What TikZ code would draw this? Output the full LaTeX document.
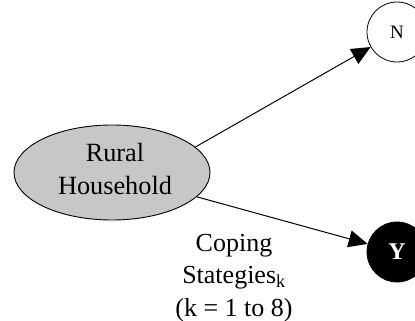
\documentclass[tikz,border=0pt]{standalone}
\usepackage{fontspec}
\setmainfont{Liberation Serif}
\usetikzlibrary{arrows.meta,shapes.geometric}
\begin{document}
\begin{tikzpicture}[x=1pt,y=-1pt,
  hhnode/.style={ellipse, draw, line width=0.9pt, fill=black!22, minimum width=196pt, minimum height=95pt, inner sep=0pt},
  hhtext/.style={align=center, inner sep=0pt, font=\fontsize{26.3}{33}\selectfont},
  varnode/.style={circle, draw, line width=0.8pt, minimum size=60pt, inner sep=0pt, font=\fontsize{19}{22}\selectfont},
  conn/.style={-{Triangle[length=19pt,width=17pt]}, line width=1pt},
  lbl/.style={align=center, inner sep=0pt, font=\fontsize{26}{32.5}\selectfont}]
\useasboundingbox (0,0) rectangle (415,321);
\node[hhnode] (hh) at (112,172.5) {};
\node[hhtext] (hht) at (115,169) {Rural\\Household};
\node[varnode] (N) at (397,32) {N};
\node[varnode, fill=black, text=white, font=\fontsize{24}{26}\selectfont\bfseries] (Y) at (397,252) {Y};
\draw[conn] (hh.17) -- (N);
\draw[conn] (hh.-16) -- (Y);
\node[lbl] (cs) at (234,278) {Coping\\Stategies\textsubscript{k}\\(k = 1 to 8)};
\end{tikzpicture}
\end{document}
